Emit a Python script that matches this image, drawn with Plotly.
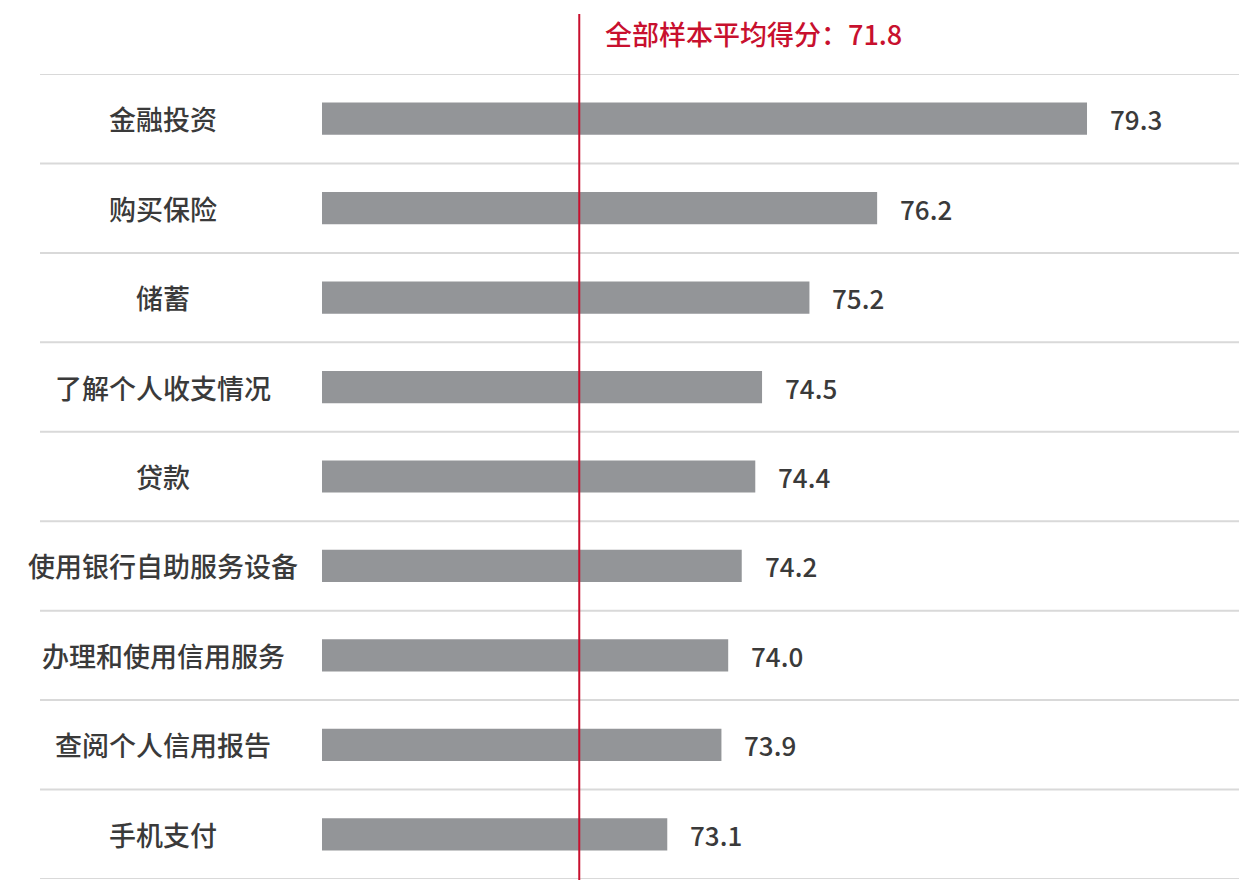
import plotly.graph_objects as go

categories = ["金融投资", "购买保险", "储蓄", "了解个人收支情况", "贷款",
              "使用银行自助服务设备", "办理和使用信用服务", "查阅个人信用报告", "手机支付"]
values = [79.3, 76.2, 75.2, 74.5, 74.4, 74.2, 74.0, 73.9, 73.1]
average = 71.8
avg_label = "全部样本平均得分：71.8"
base = 68.0

OFF = 8  # page body margin
W, H = 1247 - OFF, 880 - OFF
ml, mr, mt, mb = 322 - OFF, 0, 74 - OFF, 1
pw = W - ml - mr
ph = H - mt - mb

font_cjk = "Noto Sans CJK SC, Noto Sans, sans-serif"
text_col = "#3a3a3a"
bar_col = "#939598"
red = "#c8102e"
grid_col = "#d9d9d9"

n = len(categories)
ypos = list(range(n))

fig = go.Figure()
fig.add_trace(go.Bar(
    x=[v - base for v in values], y=ypos, base=base, orientation="h",
    marker=dict(color=bar_col, line=dict(width=0)), width=0.36,
    hoverinfo="skip",
))

x_left_paper = (40 - 322) / pw
for i in range(n + 1):
    yv = i - 0.5
    fig.add_shape(type="line", xref="paper", yref="y",
                  x0=x_left_paper, x1=1, y0=yv, y1=yv,
                  line=dict(color=grid_col, width=2), layer="below")

label_x = (163 - 322) / pw
for i, c in enumerate(categories):
    fig.add_annotation(x=label_x, y=i, xref="paper", yref="y", text=c,
                       showarrow=False, xanchor="center", yanchor="middle",
                       font=dict(family=font_cjk, size=27, color=text_col, weight=500))

for i, v in enumerate(values):
    fig.add_annotation(x=v, y=i, xref="x", yref="y", text=f"{v:.1f}",
                       showarrow=False, xanchor="left", yanchor="middle", xshift=21,
                       font=dict(family=font_cjk, size=26, color=text_col, weight=500))

top_paper = (880 - 1 - 14) / ph
fig.add_shape(type="line", xref="x", yref="paper", x0=average, x1=average,
              y0=-0.01, y1=(879 - 14) / (879 - 74), line=dict(color=red, width=2))
fig.add_annotation(x=average, y=(879 - 33) / (879 - 74), xref="x", yref="paper",
                   text=avg_label, showarrow=False, xanchor="left", yanchor="middle",
                   xshift=24,
                   font=dict(family=font_cjk, size=27, color=red, weight=500))

fig.update_layout(
    width=W, height=H,
    margin=dict(l=ml, r=mr, t=mt, b=mb),
    paper_bgcolor="white", plot_bgcolor="white",
    showlegend=False,
    xaxis=dict(range=[base, base + pw / 67.7], visible=False, fixedrange=True),
    yaxis=dict(range=[n - 0.5, -0.5], visible=False, fixedrange=True),
)
fig.write_html("out.html")
